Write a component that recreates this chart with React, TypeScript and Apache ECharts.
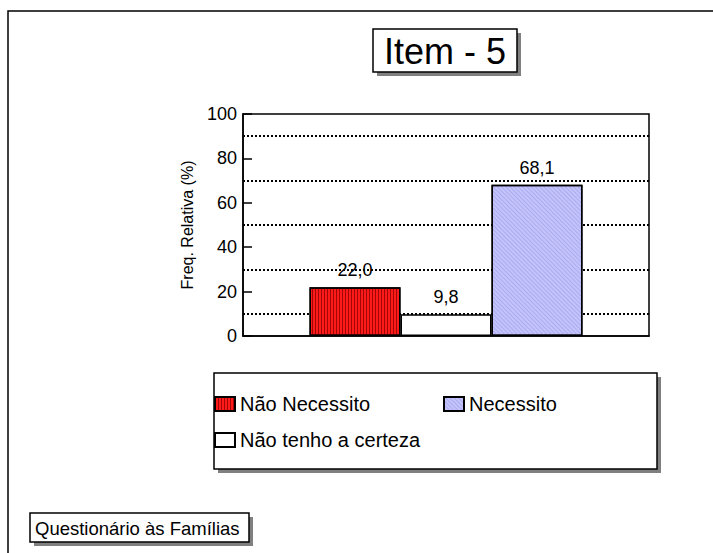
import React, { useEffect, useRef } from "react";
import * as echarts from "echarts";

// Single question, three answer groups, one bar each
const category = ["Item - 5"];
const seriesNames = ["Não Necessito", "Não tenho a certeza", "Necessito"];
const naoNecessito = [22.0];
const naoTenhoCerteza = [9.8];
const necessito = [68.1];
const yTicks = [0, 20, 40, 60, 80, 100];

const FONT = "'Liberation Sans', Arial, sans-serif";

const fmt = (v: number) => v.toFixed(1).replace(".", ",");

export default function App() {
  const ref = useRef<HTMLDivElement>(null);

  useEffect(() => {
    if (!ref.current) return;
    const chart = echarts.init(ref.current, undefined, { renderer: "svg" });

    const label = {
      show: true,
      position: "top" as const,
      distance: 8,
      color: "#000",
      fontFamily: FONT,
      fontSize: 18,
      formatter: (p: any) => fmt(p.value),
    };

    const legendText = { color: "#000", fontFamily: FONT, fontSize: 20 };
    const legendBase = {
      orient: "horizontal" as const,
      itemWidth: 20,
      itemHeight: 14,
      itemGap: 4,
      padding: 0,
      icon: "rect",
      selectedMode: false,
      textStyle: legendText,
    };

    chart.setOption({
      animation: false,
      backgroundColor: "#fff",
      textStyle: { fontFamily: FONT },
      grid: {
        left: 243,
        top: 114,
        right: 64,
        bottom: 217,
        show: true,
        borderColor: "#000",
        borderWidth: 1.5,
        backgroundColor: "transparent",
      },
      xAxis: {
        type: "category",
        data: category,
        axisLine: { lineStyle: { color: "#000", width: 1.5 } },
        axisTick: { show: false },
        axisLabel: { show: false },
      },
      yAxis: {
        type: "value",
        min: yTicks[0],
        max: yTicks[yTicks.length - 1],
        interval: 20,
        name: "Freq. Relativa (%)",
        nameLocation: "middle",
        nameGap: 48,
        nameTextStyle: { color: "#000", fontFamily: FONT, fontSize: 16 },
        axisLine: { show: true, lineStyle: { color: "#000", width: 1.5 } },
        axisTick: { show: true, inside: true, length: 9, lineStyle: { color: "#000", width: 1.5 } },
        axisLabel: { color: "#000", fontFamily: FONT, fontSize: 18, margin: 6 },
        splitLine: { show: false },
        minorTick: { show: false, splitNumber: 2 },
        minorSplitLine: { show: true, lineStyle: { color: "#000", width: 2, type: [2, 2] } },
      },
      legend: [
        { ...legendBase, left: 214, top: 394, data: [seriesNames[0]] },
        { ...legendBase, left: 443, top: 394, data: [seriesNames[2]] },
        { ...legendBase, left: 214, top: 430, data: [seriesNames[1]] },
      ],
      series: [
        {
          name: seriesNames[0],
          type: "bar",
          data: naoNecessito,
          barWidth: 91,
          barGap: "0%",
          itemStyle: {
            color: "#ff1a1a",
            borderColor: "#000",
            borderWidth: 1.5,
            decal: {
              symbol: "rect",
              symbolSize: 1,
              color: "rgba(130,0,0,0.75)",
              dashArrayX: [1, 2],
              dashArrayY: [1, 0],
            },
          },
          label,
        },
        {
          name: seriesNames[1],
          type: "bar",
          data: naoTenhoCerteza,
          barWidth: 91,
          barGap: "0%",
          itemStyle: { color: "#fff", borderColor: "#000", borderWidth: 1.5 },
          label,
        },
        {
          name: seriesNames[2],
          type: "bar",
          data: necessito,
          barWidth: 91,
          barGap: "0%",
          itemStyle: {
            color: "#c4c4fb",
            borderColor: "#000",
            borderWidth: 1.5,
            decal: {
              symbol: "rect",
              symbolSize: 1,
              color: "rgba(140,140,230,0.45)",
              dashArrayX: [1, 2],
              dashArrayY: [1, 0],
              rotation: -Math.PI / 4,
            },
          },
          label,
        },
      ],
      graphic: [
        // outer frame
        {
          type: "rect",
          z: 0,
          shape: { x: 8, y: 11, width: 760, height: 600 },
          style: { fill: "none", stroke: "#000", lineWidth: 1.5 },
          silent: true,
        },
        // title box
        {
          type: "rect",
          z: 0,
          shape: { x: 377, y: 33, width: 144, height: 43 },
          style: { fill: "#808080" },
          silent: true,
        },
        {
          type: "rect",
          z: 1,
          shape: { x: 373, y: 29, width: 144, height: 43 },
          style: { fill: "#fff", stroke: "#000", lineWidth: 1.5 },
          silent: true,
        },
        {
          type: "text",
          z: 2,
          x: 445,
          y: 51,
          style: {
            text: "Item - 5",
            fill: "#000",
            font: `36px ${FONT}`,
            align: "center",
            verticalAlign: "middle",
          },
          silent: true,
        },
        // legend box
        {
          type: "rect",
          z: 0,
          shape: { x: 218, y: 377, width: 443, height: 96 },
          style: { fill: "#808080" },
          silent: true,
        },
        {
          type: "rect",
          z: 1,
          shape: { x: 214, y: 373, width: 443, height: 96 },
          style: { fill: "#fff", stroke: "#000", lineWidth: 1.5 },
          silent: true,
        },
        // footer box
        {
          type: "rect",
          z: 0,
          shape: { x: 34, y: 517, width: 219, height: 29 },
          style: { fill: "#808080" },
          silent: true,
        },
        {
          type: "rect",
          z: 1,
          shape: { x: 30, y: 513, width: 219, height: 29 },
          style: { fill: "#fff", stroke: "#000", lineWidth: 1.5 },
          silent: true,
        },
        {
          type: "text",
          z: 2,
          x: 35,
          y: 528,
          style: {
            text: "Questionário às Famílias",
            fill: "#000",
            font: `18.5px ${FONT}`,
            align: "left",
            verticalAlign: "middle",
          },
          silent: true,
        },
      ],
    });

    return () => chart.dispose();
  }, []);

  return (
    <div
      ref={ref}
      style={{ position: "fixed", left: 0, top: 0, width: 713, height: 553 }}
    />
  );
}
